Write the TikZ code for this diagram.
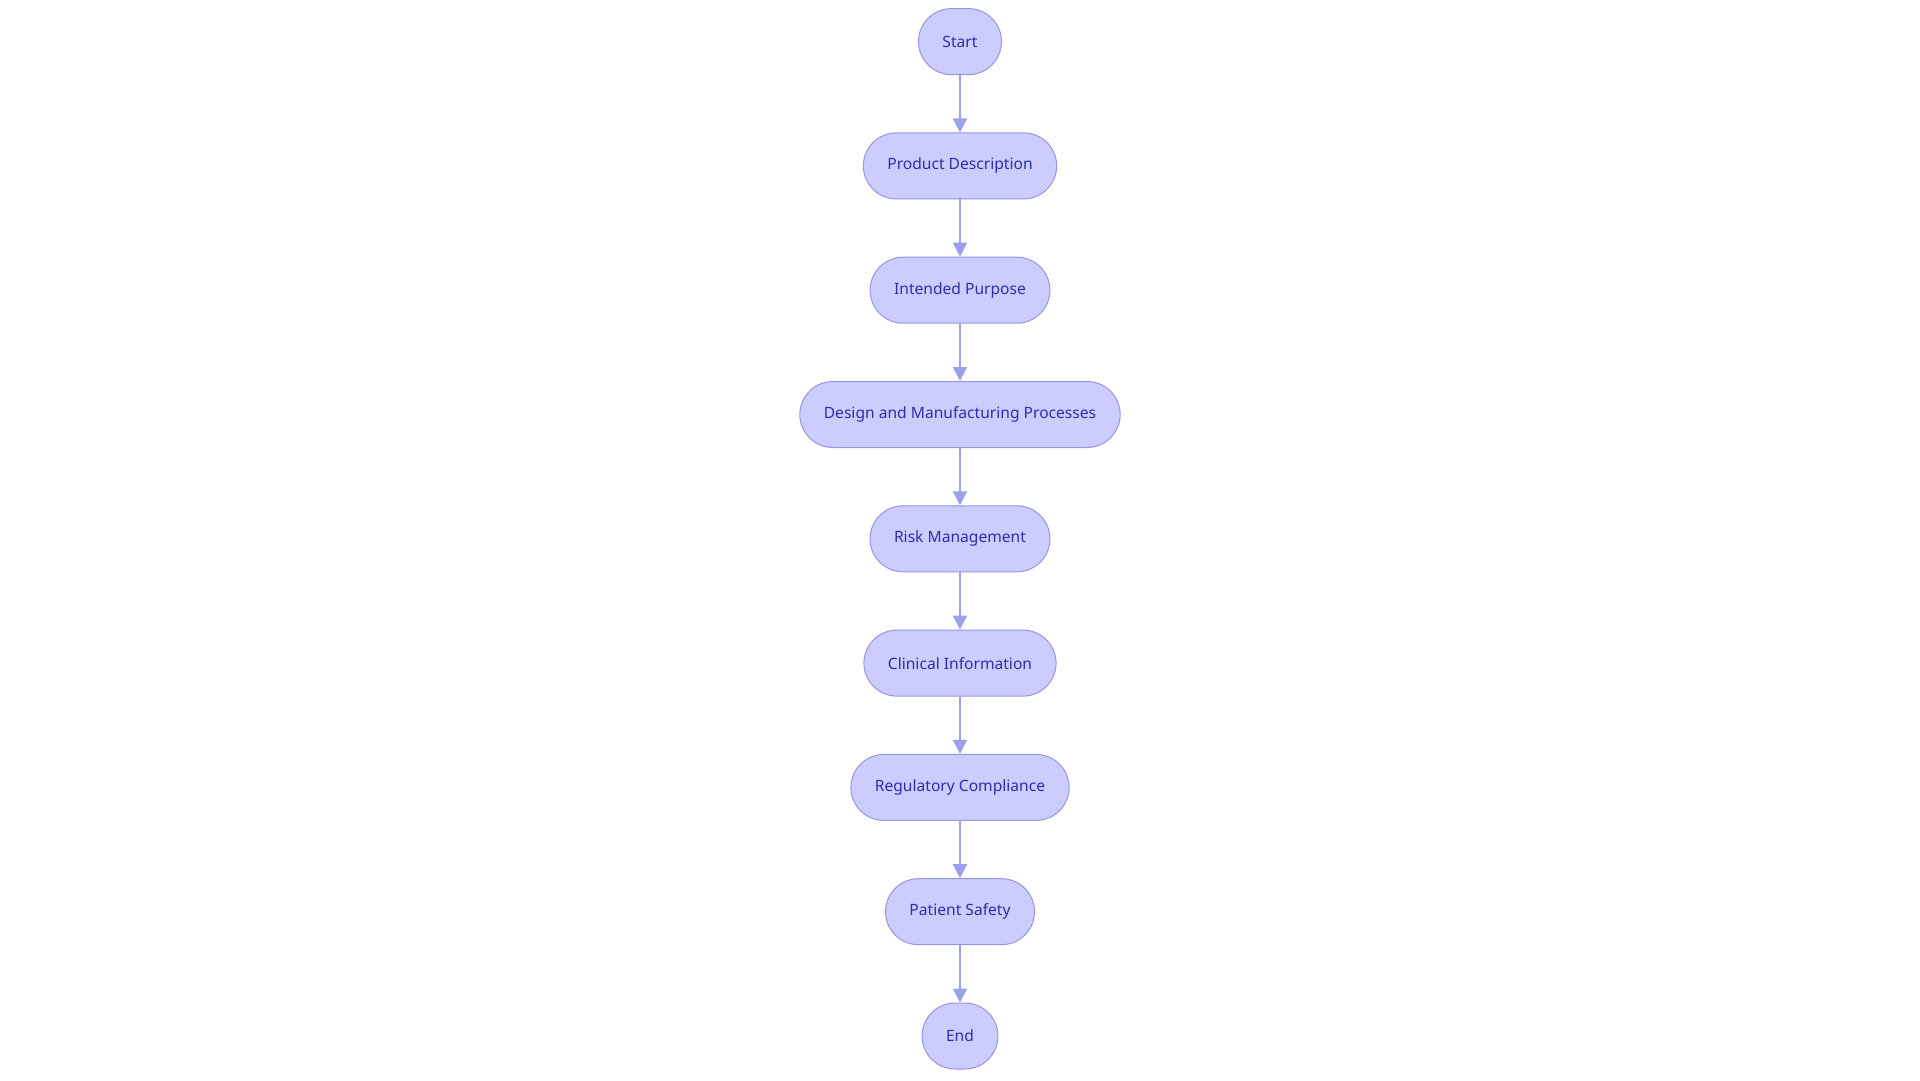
\documentclass[tikz,border=0pt]{standalone}
\usepackage{fontspec}
\setmainfont{Noto Sans}
\usetikzlibrary{positioning,arrows.meta}
\definecolor{boxfill}{RGB}{204,204,255}
\definecolor{boxline}{RGB}{150,150,230}
\definecolor{boxtext}{RGB}{45,45,175}
\definecolor{flowline}{RGB}{155,160,235}
\tikzset{
    stepnode/.style={draw=boxline, fill=boxfill, text=boxtext, line width=1pt,
        rounded corners=33pt, minimum height=66pt, inner xsep=24pt,
        font=\fontsize{15.6}{18}\selectfont},
    flow/.style={draw=flowline, line width=2pt, -{Triangle[length=14pt,width=14pt]}}
}
\begin{document}
\begin{tikzpicture}[x=1pt, y=1pt, node distance=57.3pt]
        \useasboundingbox (0,0) rectangle (1920,-1080);
        \node[stepnode] (start) at (960,-41.6) {Start};
        \node[stepnode, below=of start] (product) {Product Description};
        \node[stepnode, below=of product] (purpose) {Intended Purpose};
        \node[stepnode, below=of purpose] (design) {Design and Manufacturing Processes};
        \node[stepnode, below=of design] (risk) {Risk Management};
        \node[stepnode, below=of risk] (clinical) {Clinical Information};
        \node[stepnode, below=of clinical] (compliance) {Regulatory Compliance};
        \node[stepnode, below=of compliance] (safety) {Patient Safety};
        \node[stepnode, below=of safety] (end) {End};
        \foreach \a/\b in {start/product, product/purpose, purpose/design, design/risk,
            risk/clinical, clinical/compliance, compliance/safety, safety/end}
            \draw[flow] (\a) -- (\b);
    \end{tikzpicture}
\end{document}
